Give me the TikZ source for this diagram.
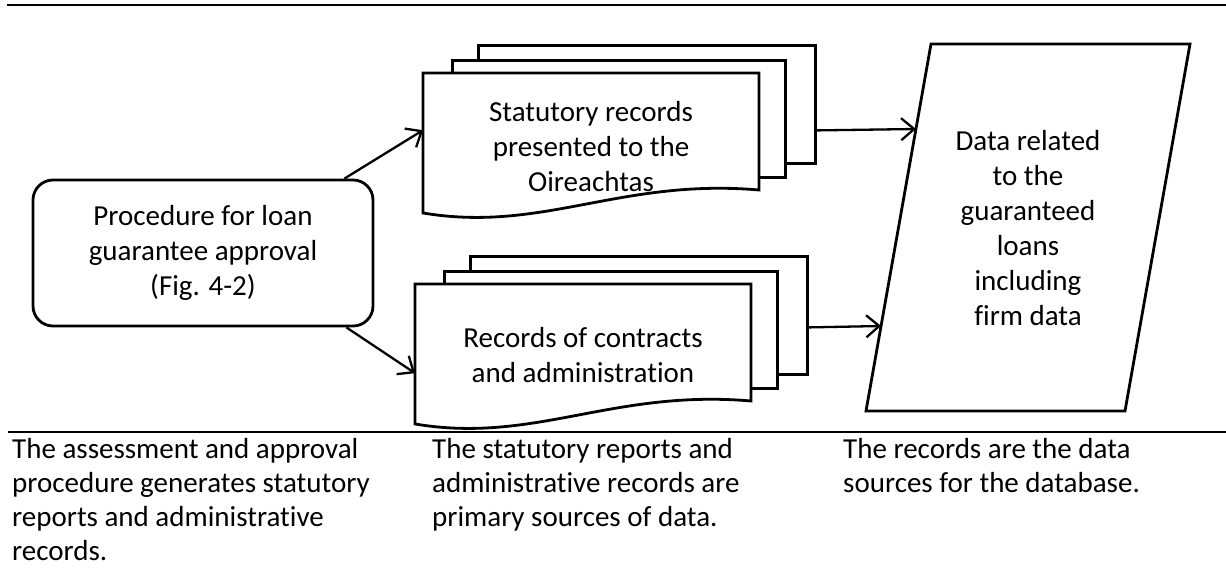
\documentclass[tikz,border=0pt]{standalone}
\usepackage{fontspec}
\setmainfont{Carlito}[Ligatures=NoCommon]
\usetikzlibrary{arrows.meta,calc}

\tikzset{
  outline/.style={draw=black,line width=2.8pt,fill=white,line join=miter},
  conn/.style={draw=black,line width=2.3pt,-{Straight Barb[length=13pt,width=22pt,line width=2.3pt]}},
  boxtext/.style={align=center,inner sep=0pt,font=\fontsize{29}{35}\selectfont},
  caption/.style={align=left,anchor=north west,inner sep=0pt,font=\fontsize{29}{34}\selectfont},
  rulerline/.style={draw=black,line width=2.6pt},
  % three stacked pages, the front one with a wavy lower edge
  pics/pagestack/.style={code={
    \node[outline,anchor=north west,minimum width=337pt,minimum height=118pt,inner sep=0pt] (-back) at (54,-29) {};
    \node[outline,anchor=north west,minimum width=333pt,minimum height=117pt,inner sep=0pt] (-mid) at (28,-14) {};
    \path[outline] (0,140) -- (0,0) -- (336,0) -- (336,117)
      .. controls (197,105) and (120,160) .. (0,140) -- cycle;
    \node[anchor=north west,minimum width=336pt,minimum height=140pt,inner sep=0pt] (-page) at (0,0) {};
  }}
}

\begin{document}
\begin{tikzpicture}[x=1pt,y=-1pt]
\useasboundingbox (0,0) rectangle (1226,580);

% table rules
\coordinate (topL) at (7,5);
\coordinate (topR) at (1226,5);
\coordinate (botL) at (8,432);
\coordinate (botR) at (1226,432);
\draw[rulerline] (topL) -- (topR);
\draw[rulerline] (botL) -- (botR);

% approval procedure
\node[outline,rounded corners=20pt,minimum width=340pt,minimum height=146pt,boxtext] (proc) at (203,253)
  {Procedure for loan\\guarantee approval\\(Fig. 4-2)};

% record stacks
\pic (sA) at (423,73) {pagestack};
\node[boxtext] (sA-text) at (591,147) {Statutory records\\presented to the\\Oireachtas};
\pic (sB) at (415,284) {pagestack};
\node[boxtext] (sB-text) at (583,355) {Records of contracts\\and administration};

% database (parallelogram)
\coordinate (dbTL) at (931,44);
\coordinate (dbTR) at (1190,44);
\coordinate (dbBR) at (1125,411);
\coordinate (dbBL) at (866,411);
\path[outline] (dbTL) -- (dbTR) -- (dbBR) -- (dbBL) -- cycle;
\node[boxtext] (db) at (1028,228) {Data related\\to the\\guaranteed\\loans\\including\\firm data};

% connectors
\draw[conn] ([xshift=-30pt]proc.north east) -- ([yshift=13pt]sA-page.west);
\draw[conn] ([xshift=-28pt]proc.south east) -- ([yshift=-19pt]sB-page.west);
\draw[conn] ([yshift=-26pt]sA-back.east) -- ($(dbTL)!0.2316!(dbBL)$);
\draw[conn] ([yshift=-12pt]sB-back.east) -- ($(dbTL)!0.7684!(dbBL)$);

% captions
\node[caption] (c1) at (12,438) {The assessment and approval\\procedure generates statutory\\reports and administrative\\records.};
\node[caption] (c2) at (432,438) {The statutory reports and\\administrative records are\\primary sources of data.};
\node[caption] (c3) at (843,438) {The records are the data\\sources for the database.};
\end{tikzpicture}
\end{document}
